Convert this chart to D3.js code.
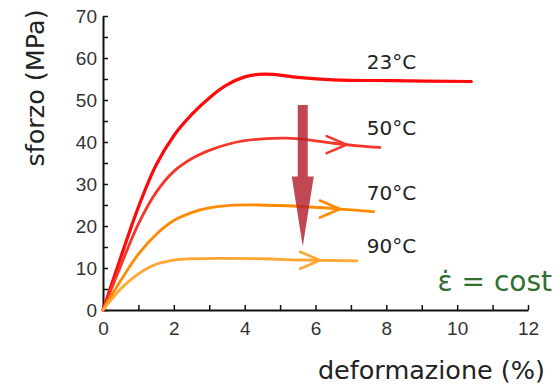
<!DOCTYPE html>
<html>
  <head>
    <meta charset="utf-8">
    <title>sforzo - deformazione</title>
    <script src="https://d3js.org/d3.v7.min.js"></script>
    <style>
      body { margin: 0; background: #fff; }
      svg { font-family: "DejaVu Sans", Verdana, sans-serif; }
      .axis path, .axis line { stroke: #111; }
      .axis text { fill: #333; font-size: 19px; }
    </style>
  </head>
  <body>
    <div id="chart"></div>
    <script>
      // curve labels
      const temps = ["23°C", "50°C", "70°C", "90°C"];

      // deformazione (%) / sforzo (MPa)
      const strain23 = [0, 0.5, 1, 1.5, 2, 2.5, 3, 3.5, 4, 4.4, 4.8, 5.5, 6.5, 8.2, 10.4];
      const stress23 = [0, 12.5, 24.5, 34.5, 41.5, 46.5, 50.5, 53.6, 55.5, 56.1, 56.1, 55.4, 54.8, 54.6, 54.4];

      const strain50 = [0, 0.5, 1, 1.5, 2, 2.5, 3, 3.5, 4, 4.6, 5.2, 5.8, 6.5, 7.2, 7.82];
      const stress50 = [0, 10.5, 20.5, 28, 33, 36, 38, 39.4, 40.3, 40.8, 40.9, 40.5, 39.7, 39.1, 38.7];

      const strain70 = [0, 0.5, 1, 1.5, 2, 2.5, 3, 3.6, 4.4, 5.5, 6.6, 7.64];
      const stress70 = [0, 7, 13.3, 18, 21.3, 23.2, 24.3, 24.9, 25, 24.7, 24.1, 23.4];

      const strain90 = [0, 0.5, 1, 1.5, 2, 2.5, 3.3, 4.5, 5.56, 7.17];
      const stress90 = [0, 5, 8.6, 10.9, 11.9, 12.2, 12.3, 12.2, 11.9, 11.7];

      // where the small ">" marks sit on the curves (strain %), null = none
      const chevronAt = [null, 6.88, 6.69, 6.13];

      // big arrow: strain position, from / to stress
      const arrowStrain = 5.64;
      const arrowFrom = 48.8;
      const arrowTo = 15.1;

      const xTicks = d3.range(0, 13, 1);
      const yTicks = d3.range(0, 71, 5);

      const colors = ["#ff0a0a", "#f5372b", "#ff8a00", "#ffa633"];

      const width = 557, height = 387;

      const series = [
        d3.zip(strain23, stress23),
        d3.zip(strain50, stress50),
        d3.zip(strain70, stress70),
        d3.zip(strain90, stress90)
      ];

      const x = d3.scaleLinear().domain([0, 12]).range([103, 528]);
      const y = d3.scaleLinear().domain([0, 70]).range([310, 16]);

      const svg = d3.select("#chart")
        .append("svg")
        .attr("width", width)
        .attr("height", height);

      // axes, ticks pointing inside
      svg.append("g")
        .attr("class", "axis")
        .attr("transform", "translate(0," + y(0) + ")")
        .call(d3.axisBottom(x)
          .tickValues(xTicks)
          .tickFormat(d => d % 2 === 0 ? d : "")
          .tickSizeInner(-5)
          .tickSizeOuter(0)
          .tickPadding(12))
        .call(g => g.select(".domain").attr("stroke-width", 2))
        .call(g => g.selectAll(".tick line").attr("stroke-width", 1.5));

      svg.append("g")
        .attr("class", "axis")
        .attr("transform", "translate(" + x(0) + ",0)")
        .call(d3.axisLeft(y)
          .tickValues(yTicks)
          .tickFormat(d => d % 10 === 0 ? d : "")
          .tickSizeInner(-5)
          .tickSizeOuter(0)
          .tickPadding(6))
        .call(g => g.select(".domain").attr("stroke-width", 2))
        .call(g => g.selectAll(".tick line").attr("stroke-width", 1.5));

      // axis titles
      svg.append("text")
        .attr("x", 545)
        .attr("y", 379)
        .attr("text-anchor", "end")
        .attr("font-size", 25.5)
        .attr("fill", "#222")
        .text("deformazione (%)");

      svg.append("text")
        .attr("transform", "translate(44,88) rotate(-90)")
        .attr("text-anchor", "middle")
        .attr("font-size", 25.5)
        .attr("fill", "#222")
        .text("sforzo (MPa)");

      const line = d3.line()
        .x(d => x(d[0]))
        .y(d => y(d[1]))
        .curve(d3.curveCatmullRom.alpha(0.5));

      svg.append("g")
        .selectAll("path")
        .data(series)
        .enter().append("path")
        .attr("d", line)
        .attr("fill", "none")
        .attr("stroke", (d, i) => colors[i])
        .attr("stroke-width", (d, i) => i === 0 ? 3.2 : 2.8)
        .attr("stroke-linecap", "round");

      // ">" marks on the curves
      function stressAt(s, sx) {
        for (let k = 1; k < s.length; k++) {
          if (sx <= s[k][0]) {
            const t = (sx - s[k - 1][0]) / (s[k][0] - s[k - 1][0]);
            return s[k - 1][1] + t * (s[k][1] - s[k - 1][1]);
          }
        }
        return s[s.length - 1][1];
      }

      series.forEach((s, i) => {
        if (chevronAt[i] == null) return;
        const tx = x(chevronAt[i]);
        const ty = y(stressAt(s, chevronAt[i]));
        svg.append("path")
          .attr("d", `M${tx - 20},${ty - 8.5}L${tx},${ty}L${tx - 20},${ty + 8.5}`)
          .attr("fill", "none")
          .attr("stroke", colors[i])
          .attr("stroke-width", 2.6)
          .attr("stroke-linejoin", "round")
          .attr("stroke-linecap", "round");
      });

      // big downward arrow
      const ax = x(arrowStrain), ay0 = y(arrowFrom), ay1 = y(arrowTo);
      const headLen = 70, shaftW = 5, headW = 11;
      svg.append("path")
        .attr("d", `M${ax - shaftW},${ay0}L${ax + shaftW},${ay0}L${ax + shaftW},${ay1 - headLen}` +
          `L${ax + headW},${ay1 - headLen}L${ax},${ay1}L${ax - headW},${ay1 - headLen}` +
          `L${ax - shaftW},${ay1 - headLen}Z`)
        .attr("fill", "#b3202c")
        .attr("opacity", 0.82);

      // curve labels
      const labelStress = [57.4, 41.7, 26.2, 13.6];
      svg.append("g")
        .selectAll("text")
        .data(temps)
        .enter().append("text")
        .attr("x", x(7.45))
        .attr("y", (d, i) => y(labelStress[i]))
        .attr("font-size", 20)
        .attr("fill", "#222")
        .text(d => d);

      svg.append("text")
        .attr("x", 552)
        .attr("y", 291)
        .attr("text-anchor", "end")
        .attr("font-size", 28)
        .attr("fill", "#2f6f2f")
        .text("\u03b5\u0307 = cost");
    </script>
  </body>
</html>
